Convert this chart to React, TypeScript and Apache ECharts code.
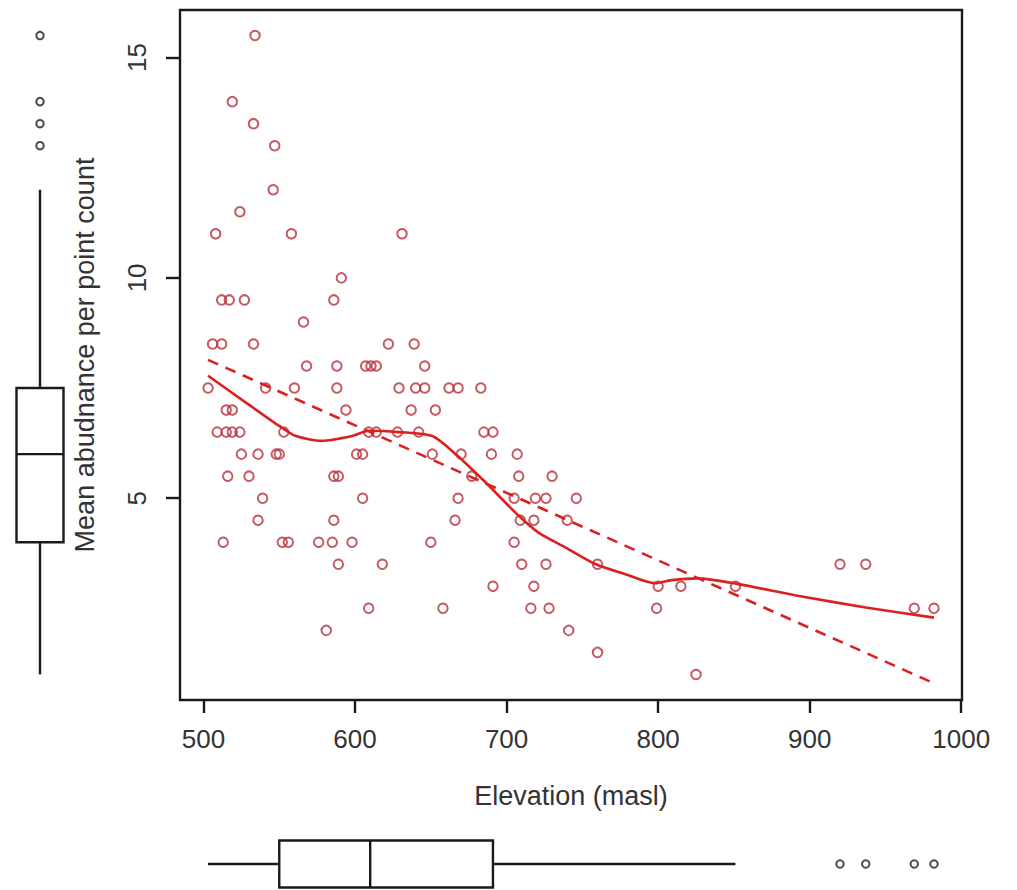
import React, { useEffect, useRef } from "react";
import * as echarts from "echarts";

// Elevation (masl) and mean abundance per point count, one entry per site
const elevation = [
  534, 519, 533, 547, 546, 524,
  508, 558, 631, 591,
  512, 517, 527, 586, 566,
  506, 512, 533, 622, 639,
  568, 588, 607, 610.5, 614, 646,
  503, 541, 560, 588, 629, 640, 646, 662, 668, 683,
  515, 519, 594, 637, 653,
  509, 515, 519, 524, 553, 609, 614, 628, 642, 685, 691,
  525, 536, 548, 550, 601, 605, 651, 670, 690, 707,
  516, 530, 586, 589, 677, 708, 730,
  539, 605, 668, 705, 719, 726, 746,
  536, 586, 666, 709, 718, 740,
  513, 552, 556, 576, 585, 598, 650, 705,
  589, 618, 710, 726, 760, 920, 937,
  691, 718, 800, 815, 851,
  609, 658, 716, 728, 799, 969, 982,
  581, 741, 760, 825,
];
const abundance = [
  15.5, 14, 13.5, 13, 12, 11.5,
  11, 11, 11, 10,
  9.5, 9.5, 9.5, 9.5, 9,
  8.5, 8.5, 8.5, 8.5, 8.5,
  8, 8, 8, 8, 8, 8,
  7.5, 7.5, 7.5, 7.5, 7.5, 7.5, 7.5, 7.5, 7.5, 7.5,
  7, 7, 7, 7, 7,
  6.5, 6.5, 6.5, 6.5, 6.5, 6.5, 6.5, 6.5, 6.5, 6.5, 6.5,
  6, 6, 6, 6, 6, 6, 6, 6, 6, 6,
  5.5, 5.5, 5.5, 5.5, 5.5, 5.5, 5.5,
  5, 5, 5, 5, 5, 5, 5,
  4.5, 4.5, 4.5, 4.5, 4.5, 4.5,
  4, 4, 4, 4, 4, 4, 4, 4,
  3.5, 3.5, 3.5, 3.5, 3.5, 3.5, 3.5,
  3, 3, 3, 3, 3,
  2.5, 2.5, 2.5, 2.5, 2.5, 2.5, 2.5,
  2, 2, 1.5, 1,
];

// Smoothed (lowess) curve
const lowessElevation = [503, 528, 550, 561, 578, 598, 609, 629, 651, 667, 684, 695, 708, 721, 739, 759, 778, 798, 809, 826, 853, 893, 937, 982];
const lowessAbundance = [7.78, 7.17, 6.64, 6.41, 6.3, 6.41, 6.53, 6.5, 6.41, 5.98, 5.43, 5.05, 4.6, 4.22, 3.88, 3.5, 3.28, 3.07, 3.14, 3.18, 3.05, 2.78, 2.52, 2.29];

// Linear fit (dashed) end points
const trendElevation = [503, 982];
const trendAbundance = [8.14, 0.8];

// Tick labels
const xTicks = [500, 600, 700, 800, 900, 1000];
const yTicks = [5, 10, 15];

// Marginal boxplots: [whisker low, Q1, median, Q3, whisker high]
const abundanceBox = [1, 4, 6, 7.5, 12];
const abundanceOutliers = [13, 13.5, 14, 15.5];
const elevationBox = [503, 550, 610, 691, 851];
const elevationOutliers = [920, 937, 969, 982];

const X_MIN = 484.5;
const X_MAX = 1000.5;
const Y_MIN = 0.42;
const Y_MAX = 16.08;

const FONT = "'Liberation Sans', Arial, Helvetica, sans-serif";
const INK = "#1a1a1a";
const TEXT = "#333333";
const POINT = "#b8303a";
const LINE = "#dc2020";
const BOX_HALF = 23.5;

export default function App() {
  const ref = useRef<HTMLDivElement | null>(null);

  useEffect(() => {
    document.body.style.margin = "0";
    if (!ref.current) return;
    const chart = echarts.init(ref.current, undefined, { renderer: "svg" });

    const scatterData = elevation.map((e, i) => [e, abundance[i]]);
    const lowessData = lowessElevation.map((e, i) => [e, lowessAbundance[i]]);
    const trendData = trendElevation.map((e, i) => [e, trendAbundance[i]]);

    const boxStyle = { stroke: INK, lineWidth: 2.4 };
    const plain = (v: number) => String(v);

    const option: any = {
      animation: false,
      backgroundColor: "#ffffff",
      grid: [
        { left: 180, top: 10, width: 782, height: 690, show: true, borderColor: INK, borderWidth: 2.4, backgroundColor: "transparent", outerBoundsMode: "none", containLabel: false },
        { left: 0, top: 10, width: 80, height: 690, outerBoundsMode: "none" },
        { left: 180, top: 830, width: 782, height: 68, outerBoundsMode: "none" },
      ],
      xAxis: [
        {
          gridIndex: 0,
          type: "value",
          min: X_MIN,
          max: X_MAX,
          axisLine: { show: false },
          splitLine: { show: false },
          axisTick: { show: true, length: 13, customValues: xTicks, lineStyle: { color: INK, width: 2.4 } },
          axisLabel: { customValues: xTicks, formatter: plain, fontSize: 26, color: TEXT, fontFamily: FONT, margin: 26 },
          name: "Elevation (masl)",
          nameLocation: "middle",
          nameGap: 82,
          nameTextStyle: { fontSize: 27, color: TEXT, fontFamily: FONT },
        },
        { gridIndex: 1, type: "value", min: 0, max: 1, show: false },
        { gridIndex: 2, type: "value", min: X_MIN, max: X_MAX, show: false },
      ],
      yAxis: [
        {
          gridIndex: 0,
          type: "value",
          min: Y_MIN,
          max: Y_MAX,
          axisLine: { show: false },
          splitLine: { show: false },
          axisTick: { show: true, length: 14, customValues: yTicks, lineStyle: { color: INK, width: 2.4 } },
          axisLabel: { customValues: yTicks, formatter: plain, rotate: 90, fontSize: 26, color: TEXT, fontFamily: FONT, margin: 30 },
          name: "Mean abudnance per point count",
          nameLocation: "middle",
          nameRotate: 90,
          nameGap: 82,
          nameTextStyle: { fontSize: 27, color: TEXT, fontFamily: FONT },
        },
        { gridIndex: 1, type: "value", min: Y_MIN, max: Y_MAX, show: false },
        { gridIndex: 2, type: "value", min: 0, max: 1, show: false },
      ],
      series: [
        {
          type: "scatter",
          xAxisIndex: 0,
          yAxisIndex: 0,
          data: scatterData,
          symbol: "circle",
          symbolSize: 9.5,
          itemStyle: { color: "transparent", borderColor: POINT, borderWidth: 2 },
          z: 2,
        },
        {
          type: "line",
          xAxisIndex: 0,
          yAxisIndex: 0,
          data: lowessData,
          showSymbol: false,
          smooth: 0.25,
          lineStyle: { color: LINE, width: 2.6 },
          z: 3,
        },
        {
          type: "line",
          xAxisIndex: 0,
          yAxisIndex: 0,
          data: trendData,
          showSymbol: false,
          lineStyle: { color: LINE, width: 2.6, type: [11, 8] },
          z: 3,
        },
        {
          type: "custom",
          xAxisIndex: 1,
          yAxisIndex: 1,
          data: [[0.5, ...abundanceBox]],
          renderItem: (_p: any, api: any) => {
            const c = api.value(0);
            const pt = (k: number) => api.coord([c, api.value(k)]);
            const lo = pt(1), q1 = pt(2), md = pt(3), q3 = pt(4), hi = pt(5);
            const cx = lo[0];
            return {
              type: "group",
              children: [
                { type: "line", shape: { x1: cx, y1: lo[1], x2: cx, y2: q1[1] }, style: boxStyle },
                { type: "line", shape: { x1: cx, y1: q3[1], x2: cx, y2: hi[1] }, style: boxStyle },
                { type: "rect", shape: { x: cx - BOX_HALF, y: q3[1], width: 2 * BOX_HALF, height: q1[1] - q3[1] }, style: { ...boxStyle, fill: "#fff" } },
                { type: "line", shape: { x1: cx - BOX_HALF, y1: md[1], x2: cx + BOX_HALF, y2: md[1] }, style: boxStyle },
              ],
            };
          },
        },
        {
          type: "scatter",
          xAxisIndex: 1,
          yAxisIndex: 1,
          data: abundanceOutliers.map((v) => [0.5, v]),
          symbol: "circle",
          symbolSize: 7.5,
          itemStyle: { color: "transparent", borderColor: INK, borderWidth: 2 },
        },
        {
          type: "custom",
          xAxisIndex: 2,
          yAxisIndex: 2,
          data: [[...elevationBox, 0.5]],
          renderItem: (_p: any, api: any) => {
            const c = api.value(5);
            const pt = (k: number) => api.coord([api.value(k), c]);
            const lo = pt(0), q1 = pt(1), md = pt(2), q3 = pt(3), hi = pt(4);
            const cy = lo[1];
            return {
              type: "group",
              children: [
                { type: "line", shape: { x1: lo[0], y1: cy, x2: q1[0], y2: cy }, style: boxStyle },
                { type: "line", shape: { x1: q3[0], y1: cy, x2: hi[0], y2: cy }, style: boxStyle },
                { type: "rect", shape: { x: q1[0], y: cy - BOX_HALF, width: q3[0] - q1[0], height: 2 * BOX_HALF }, style: { ...boxStyle, fill: "#fff" } },
                { type: "line", shape: { x1: md[0], y1: cy - BOX_HALF, x2: md[0], y2: cy + BOX_HALF }, style: boxStyle },
              ],
            };
          },
        },
        {
          type: "scatter",
          xAxisIndex: 2,
          yAxisIndex: 2,
          data: elevationOutliers.map((v) => [v, 0.5]),
          symbol: "circle",
          symbolSize: 7.5,
          itemStyle: { color: "transparent", borderColor: INK, borderWidth: 2 },
        },
      ],
    };

    chart.setOption(option);
    return () => chart.dispose();
  }, []);

  return (
    <div
      ref={ref}
      style={{ position: "absolute", left: 0, top: 0, width: 990, height: 890, overflow: "hidden", background: "#fff" }}
    />
  );
}
